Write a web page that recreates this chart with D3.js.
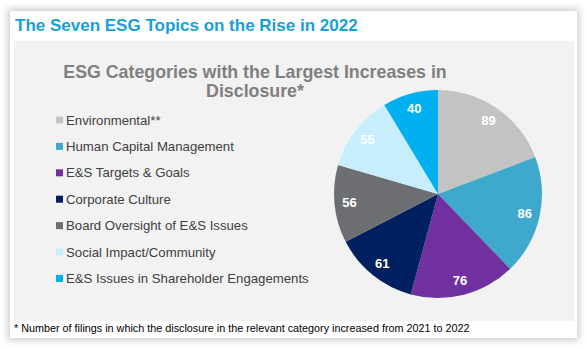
<!DOCTYPE html>
<html>
<head>
<meta charset="utf-8">
<script src="https://cdn.jsdelivr.net/npm/d3@7"></script>
<style>
  body { margin: 0; background: #fff; font-family: Arial, "Liberation Sans", sans-serif; }
  #card {
    position: absolute; left: 10px; top: 11px; width: 567px; height: 327px;
    background: #fff; box-shadow: 0 0 7px 2px rgba(0,0,0,0.22);
  }
  #chart { position: absolute; left: 0; top: 0; }
</style>
</head>
<body>
<div id="card"></div>
<div id="chart"></div>
<script>
// Categories and filing counts
const categories = [
  "Environmental**",
  "Human Capital Management",
  "E&S Targets & Goals",
  "Corporate Culture",
  "Board Oversight of E&S Issues",
  "Social Impact/Community",
  "E&S Issues in Shareholder Engagements"
];
const values = [89, 86, 76, 61, 56, 55, 40];
const colors = ["#c3c3c3", "#3ea9cc", "#7030a0", "#002060", "#6d6e72", "#c6eefd", "#00b0f0"];

const width = 587;
const height = 348;

const svg = d3.select('#chart')
  .append('svg')
  .attr('width', width)
  .attr('height', height);

// Header
svg.append('text')
  .attr('x', 15)
  .attr('y', 31)
  .attr('fill', '#15a0d8')
  .style('font-size', '17px')
  .style('font-weight', 'bold')
  .text('The Seven ESG Topics on the Rise in 2022');

// Gray panel
svg.append('rect')
  .attr('x', 14)
  .attr('y', 41)
  .attr('width', 560)
  .attr('height', 280)
  .attr('fill', '#f2f2f2');

// Chart title
const title = svg.append('text')
  .attr('x', 255)
  .attr('y', 78)
  .attr('text-anchor', 'middle')
  .attr('fill', '#7f7f7f')
  .style('font-size', '17.8px')
  .style('font-weight', 'bold');
title.append('tspan').attr('x', 255).text('ESG Categories with the Largest Increases in');
title.append('tspan').attr('x', 255).attr('dy', 19).text('Disclosure*');

// Legend
const legend = svg.append('g')
  .attr('transform', 'translate(56, 120)');

const legendEntries = legend.selectAll('.legend-entry')
  .data(categories)
  .enter()
  .append('g')
  .attr('class', 'legend-entry')
  .attr('transform', (d, i) => `translate(0, ${i * 26.4})`);

legendEntries.append('rect')
  .attr('x', 0)
  .attr('y', -3.5)
  .attr('width', 7)
  .attr('height', 7)
  .attr('fill', (d, i) => colors[i]);

legendEntries.append('text')
  .attr('x', 10)
  .attr('y', 4.5)
  .attr('fill', '#404040')
  .style('font-size', '13.2px')
  .text(d => d);

// Pie
const cx = 438, cy = 194, radius = 104;
const pie = d3.pie().sort(null).value(d => d);
const arc = d3.arc().innerRadius(0).outerRadius(radius);
const labelArc = d3.arc().innerRadius(radius * 0.855).outerRadius(radius * 0.855);

const pieG = svg.append('g')
  .attr('transform', `translate(${cx}, ${cy})`);

const slices = pie(values);

pieG.selectAll('path')
  .data(slices)
  .enter()
  .append('path')
  .attr('d', arc)
  .attr('fill', (d, i) => colors[i]);

pieG.selectAll('.slice-label')
  .data(slices)
  .enter()
  .append('text')
  .attr('class', 'slice-label')
  .attr('transform', d => `translate(${labelArc.centroid(d)})`)
  .attr('text-anchor', 'middle')
  .attr('dy', '0.35em')
  .attr('fill', '#fff')
  .style('font-size', '13px')
  .style('font-weight', 'bold')
  .text(d => d.data);

// Footnote
svg.append('text')
  .attr('x', 14)
  .attr('y', 332)
  .attr('fill', '#000')
  .style('font-size', '10.8px')
  .text('* Number of filings in which the disclosure in the relevant category increased from 2021 to 2022');
</script>
</body>
</html>
